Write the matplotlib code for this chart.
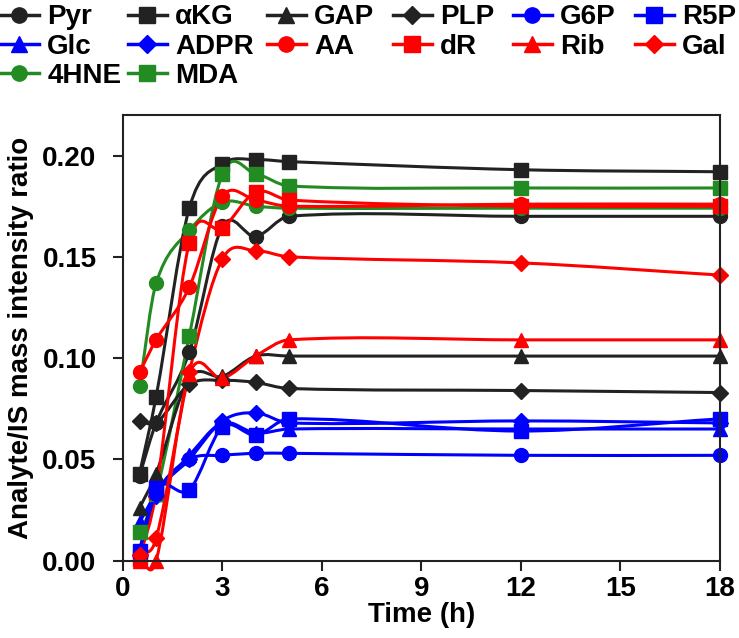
import numpy as np
import matplotlib.pyplot as plt
from matplotlib.path import Path
from matplotlib.patches import PathPatch
from matplotlib.lines import Line2D

plt.rcParams['font.family'] = ['Liberation Sans', 'DejaVu Sans']
plt.rcParams['font.weight'] = 'bold'

# sampling times (h)
time_h = [0.5, 1, 2, 3, 4, 5, 12, 18]

# analyte/IS ratios
pyr = [0.042, 0.068, 0.103, 0.165, 0.160, 0.170, 0.170, 0.170]
akg = [0.043, 0.081, 0.174, 0.196, 0.198, 0.197, 0.193, 0.192]
gap = [0.026, 0.043, 0.090, 0.091, 0.101, 0.101, 0.101, 0.101]
plp = [0.069, 0.068, 0.087, 0.089, 0.088, 0.085, 0.084, 0.083]
g6p = [0.005, 0.033, 0.050, 0.052, 0.053, 0.053, 0.052, 0.052]
r5p = [0.005, 0.036, 0.035, 0.066, 0.062, 0.070, 0.064, 0.070]
glc = [0.019, 0.033, 0.052, 0.068, 0.063, 0.065, 0.065, 0.065]
adpr = [0.003, 0.032, 0.050, 0.069, 0.073, 0.068, 0.069, 0.068]
aa = [0.093, 0.109, 0.135, 0.180, 0.178, 0.175, 0.176, 0.176]
dr = [0.001, 0.034, 0.157, 0.164, 0.182, 0.178, 0.175, 0.175]
rib = [0.000, 0.000, 0.092, 0.090, 0.101, 0.109, 0.109, 0.109]
gal = [0.003, 0.011, 0.093, 0.149, 0.153, 0.150, 0.147, 0.141]
hne = [0.086, 0.137, 0.163, 0.177, 0.175, 0.174, 0.174, 0.174]
mda = [0.014, 0.033, 0.111, 0.191, 0.191, 0.185, 0.184, 0.184]

BLK = '#222222'
BLU = '#0000ff'
RED = '#ff0000'
GRN = '#228b22'

# legend columns: (label, values, color, marker, size)
columns = [
    [('Pyr', pyr, BLK, 'o', 10), ('Glc', glc, BLU, '^', 10), ('4HNE', hne, GRN, 'o', 10)],
    [('\u03b1KG', akg, BLK, 's', 10), ('ADPR', adpr, BLU, 'D', 8), ('MDA', mda, GRN, 's', 10)],
    [('GAP', gap, BLK, '^', 10), ('AA', aa, RED, 'o', 10)],
    [('PLP', plp, BLK, 'D', 8), ('dR', dr, RED, 's', 10)],
    [('G6P', g6p, BLU, 'o', 10), ('Rib', rib, RED, '^', 10)],
    [('R5P', r5p, BLU, 's', 10), ('Gal', gal, RED, 'D', 8)],
]
col_x = [0, 128, 267, 393, 513, 635]  # left edge of each legend column, px


def smooth_path(x, y):
    """Кубическая кривая Эрмита через точки (в координатах данных)"""
    x = np.asarray(x, float)
    y = np.asarray(y, float)
    n = len(x)
    m = np.zeros(n)
    m[0] = (y[1] - y[0]) / (x[1] - x[0])
    m[-1] = (y[-1] - y[-2]) / (x[-1] - x[-2])
    for i in range(1, n - 1):
        m[i] = (y[i + 1] - y[i - 1]) / (x[i + 1] - x[i - 1])
    verts = [(x[0], y[0])]
    codes = [Path.MOVETO]
    for i in range(n - 1):
        h = x[i + 1] - x[i]
        verts += [(x[i] + h / 3, y[i] + m[i] * h / 3),
                  (x[i + 1] - h / 3, y[i + 1] - m[i + 1] * h / 3),
                  (x[i + 1], y[i + 1])]
        codes += [Path.CURVE4] * 3
    return Path(verts, codes)


fig = plt.figure(figsize=(7.39, 6.38), dpi=100)
ax = fig.add_axes([0.1664, 0.1212, 0.8077, 0.6985])

for col, x0 in zip(columns, col_x):
    handles = []
    for label, vals, c, mk, ms in col:
        ax.add_patch(PathPatch(smooth_path(time_h, vals), facecolor='none',
                               edgecolor=c, lw=2.2, clip_on=False))
        ax.plot(time_h, vals, linestyle='none', marker=mk, ms=ms, color=c,
                mec=c, clip_on=False)
        handles.append(Line2D([], [], color=c, lw=2.5, marker=mk, ms=ms + 1,
                              mec=c, label=label))
    fig.legend(handles=handles, loc='upper left',
               bbox_to_anchor=(x0 / 739, 0.993), frameon=False, fontsize=20,
               handlelength=1.4, handletextpad=0.3, labelspacing=0.12,
               borderaxespad=0, borderpad=0.0)

ax.set_xlim(0, 18)
ax.set_ylim(0, 0.22)
ax.set_xticks([0, 3, 6, 9, 12, 15, 18])
ax.set_yticks([0.00, 0.05, 0.10, 0.15, 0.20])
ax.set_yticklabels(['0.00', '0.05', '0.10', '0.15', '0.20'])
ax.tick_params(direction='out', length=7, width=1.5, labelsize=20,
               color=BLK)
ax.tick_params(axis='y', pad=12)
ax.tick_params(axis='x', pad=4)
for s in ax.spines.values():
    s.set_linewidth(1.5)
    s.set_color(BLK)

ax.set_xlabel('Time (h)', fontsize=20, fontweight='bold', labelpad=0)
ax.set_ylabel('Analyte/IS mass intensity ratio', fontsize=20,
              fontweight='bold', labelpad=6)

fig.savefig('out.png', dpi=100)
